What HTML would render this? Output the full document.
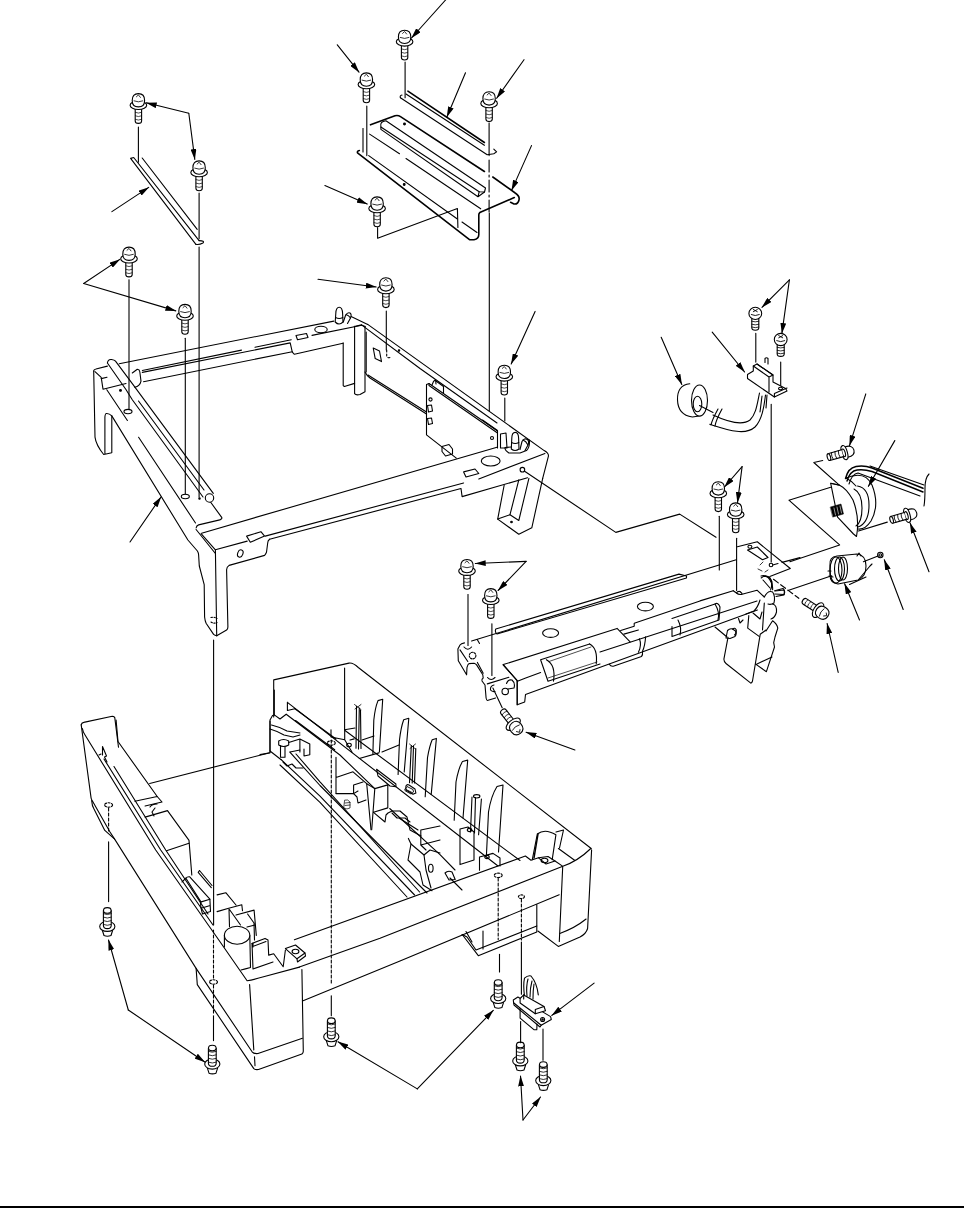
<!DOCTYPE html>
<html><head><meta charset="utf-8"><style>
html,body{margin:0;padding:0;background:#fff;width:964px;height:1208px;overflow:hidden}
svg{display:block}
</style></head><body>
<svg width="964" height="1208" viewBox="0 0 964 1208" fill="none" stroke="#000" stroke-width="1.1" stroke-linejoin="round" stroke-linecap="round">
<defs>
<marker id="ah" markerUnits="userSpaceOnUse" markerWidth="10.8" markerHeight="5.9" refX="10.6" refY="3" orient="auto" viewBox="0 0 11 6"><path d="M0,0 L11,3 L0,6 Z" fill="#000" stroke="none"/></marker>
<g id="sc">
<path d="M-3.2,14 L-3.2,27.5 Q-3.2,30 0,30 Q3.2,30 3.2,27.5 L3.2,14" fill="#fff"/>
<path d="M-3,19 Q0,20.5 3,19 M-3,22.5 Q0,24 3,22.5 M-3,26 Q0,27.5 3,26" stroke-width="0.7"/>
<ellipse cx="0" cy="11.8" rx="8.3" ry="4.3" fill="#fff"/>
<path d="M-6.2,7 Q-6.2,0.2 0,0.2 Q6.2,0.2 6.2,7 Q6.2,13.5 0,13.5 Q-6.2,13.5 -6.2,7 Z" fill="#fff"/>
<path d="M-4.4,7.5 Q0,9.5 4.4,7.5 M-2,3.4 L0,1.5 L2,4" stroke-width="0.8"/>
</g>
<g id="ss">
<path d="M-3.5,10.5 L-3.5,20.5 Q-3.5,23 0,23 Q3.5,23 3.5,20.5 L3.5,10.5" fill="#fff"/>
<path d="M-3.5,14 Q0,15.2 3.5,14 M-3.5,17 Q0,18.2 3.5,17 M-3.5,19.8 Q0,21 3.5,19.8" stroke-width="0.8"/>
<ellipse cx="0" cy="6.1" rx="6.4" ry="6.1" fill="#fff"/>
<path d="M-2,2.2 L2,4.4 M2,2.2 L-2,4.4" stroke-width="0.9"/>
<path d="M-4,7.3 Q0,9.3 4,7.3" stroke-width="0.9"/>
</g>
<g id="hs">
<path d="M18,-5.4 Q26,-5.8 26,0 Q26,5.8 18,5.4 Z" fill="#fff"/>
<ellipse cx="16.2" cy="0" rx="2.9" ry="7.3" fill="#fff"/>
<ellipse cx="15.4" cy="0" rx="1.5" ry="4"/>
<path d="M0,-3.5 L14,-3.5 L14,3.5 L0,3.5 Z" fill="#fff" stroke="none"/>
<path d="M0,-3.5 L14.2,-3.6 M0,3.5 L14.2,3.6"/>
<ellipse cx="0" cy="0" rx="1.6" ry="3.5" fill="#fff"/>
<path d="M3.6,-3.5 Q2.3,0 3.6,3.5 M7.2,-3.5 Q5.9,0 7.2,3.5 M10.8,-3.5 Q9.5,0 10.8,3.5" stroke-width="0.8"/>
</g>
<g id="scu">
<path d="M-4.9,-6 L-3.3,-1 Q0,0.4 3.7,-1 L5.3,-6" fill="#fff"/>
<ellipse cx="0" cy="-10.1" rx="7.6" ry="5" fill="#fff"/>
<path d="M-3.9,-26 L-3.9,-11 Q-3.9,-7.9 0,-7.9 Q3.9,-7.9 3.9,-11 L3.9,-26" fill="#fff"/>
<ellipse cx="0" cy="-26.1" rx="3.8" ry="2.8" fill="#fff"/>
<path d="M-3.9,-22.8 Q0,-21 3.9,-22.8 M-3.9,-19.3 Q0,-17.5 3.9,-19.3 M-3.9,-15.8 Q0,-14 3.9,-15.8 M-3.9,-12 Q0,-10.3 3.9,-12" stroke-width="0.8"/>
</g>
</defs>
<!-- bottom rule -->
<line x1="0" y1="1207" x2="964" y2="1207" stroke-width="2"/>

<!-- ===== top bracket group ===== -->
<g id="bracket">
<!-- strip -->
<path d="M407.9,91.2 L484.4,142.5" stroke-width="1.6"/>
<path d="M406,94 L484.4,145.3"/>
<path d="M400.4,97.7 L487.2,154.7 L493.8,153.7 L496.6,151.9 L493.8,149.1"/>
<path d="M400.4,97.7 Q399.5,95.5 402,95"/>
<!-- plate -->
<path d="M370.5,124.8 L395,115.8 Q398,115 400.5,116.6 L484.4,171.5 M492.8,177 L515.2,193 Q520,196 519,200 Q518,204.5 514,204 L510.6,202.3" stroke-width="1.6"/>
<path d="M514.3,197.6 L479.8,212.6 Q478.8,213.5 478.8,215 L478.8,234.5 Q478.8,238.8 474,239.8 L469.5,239.6 L357.5,152.8 Q357,151 359.3,150.5" stroke-width="1.6"/>
<path d="M363,128.5 L363,151.9"/>
<path d="M369.6,134.1 L399.5,153.7 M406,158.5 L480.7,208.8"/>
<path d="M368.7,155.6 L457.4,219 M462,222 L477,232.5"/>
<circle cx="404.2" cy="184.5" r="0.9" fill="#000"/>
<circle cx="404.5" cy="124" r="0.9" fill="#000"/>
<!-- rib -->
<path d="M380.9,127 Q379.5,121.5 385.9,120.7 L485.5,188 L484.5,192 L479.2,191.7 L380.9,127 Z" fill="#fff"/>
<path d="M380.9,127 L380.9,129.4 L478,196.7 L484.5,192 M479.2,191.7 L478,196.7"/>
<!-- screw leader lines -->
<path d="M405.1,62 L405.1,97.7"/>
<path d="M366.8,106.1 L366.8,155.6"/>
<path d="M489.1,123 L489.1,155.6"/>
<path d="M489.1,160 L489.1,213" stroke-dasharray="12,3,2,3"/>
<path d="M489.3,213 L489.3,411"/>
<path d="M377.6,227.5 L377.6,238.3 L457.4,208.5 L457.9,227.5"/>
</g>
<use href="#sc" x="404.6" y="30"/>
<use href="#sc" x="366.4" y="72.7"/>
<use href="#sc" x="489.1" y="91.6"/>
<use href="#sc" x="377.1" y="196.7"/>
<!-- arrows -->
<path d="M445.6,0 L411.5,38" marker-end="url(#ah)"/>
<path d="M337.3,44.8 L359,72.2" marker-end="url(#ah)"/>
<path d="M524,59.7 L496.7,98.3" marker-end="url(#ah)"/>
<path d="M465.5,72.7 L446.9,117" marker-end="url(#ah)"/>
<path d="M531.5,145.6 L511.6,190.4" marker-end="url(#ah)"/>
<path d="M324.9,185.5 L367.2,204.1" marker-end="url(#ah)"/>

<!-- ===== left strip group ===== -->
<use href="#sc" x="138.4" y="93.4"/>
<use href="#sc" x="199.1" y="160.7"/>
<path d="M188.8,113.2 L146.3,102.8" marker-end="url(#ah)"/>
<path d="M188.8,113.2 L194.8,159.4" marker-end="url(#ah)"/>
<path d="M138.4,127 L138.4,162.2"/>
<path d="M130.6,158.4 L195.9,244.3 M133.7,157.5 L199.1,240.6 M142.2,158 L197.2,229.4 M130.6,158.4 L133.7,157.5"/>
<path d="M195.9,244.3 Q199,245 203,243 Q205,240.6 199.1,240.6"/>
<path d="M111.9,211.6 L148.7,187.4" marker-end="url(#ah)"/>
<path d="M199.1,193 L199.1,238.7"/>

<!-- ===== upper frame ===== -->
<g id="frame">
<!-- back rail -->
<path d="M93.7,371 Q93.7,369.5 96,369 L107.4,366.1 M119.2,363.7 L333.8,321.1"/>
<path d="M95,371.7 L101.2,377.3 L103,389.2 L126,383.5"/>
<path d="M101.2,378.6 L107,377.2 M132.3,373 L137.3,369.3 Q139.5,369.5 139.8,371.7 L141,381.1 Q140,386 134.8,387.3"/>
<path d="M142.3,370.5 L241.5,350.1 M255,347.3 L291.3,339.8 M312,335.4 L361.8,325.3"/>
<path d="M142.3,372.4 L290.2,342.9 L292.3,352.2 L294.4,354.3 L343,343.3"/>
<path d="M143.5,381.7 L292.3,351.7"/>
<!-- pins back-right -->
<path d="M335.2,322 L335.8,313.5 Q336,307.3 339.2,307.3 Q342.4,307.3 342.6,313.5 L343,322 Q339,326 335.2,322 Z" fill="#fff"/>
<path d="M335.6,317.5 Q339.2,319.5 342.8,317.5"/>
<path d="M343.3,322 L345.5,315.5 Q347.5,312 350,313 Q352,314.5 350.5,318 L347.5,323.5"/>
<path d="M346,314.5 Q349,315.5 350.5,318"/>
<path d="M351.1,316.6 L367.7,324.4"/>
<!-- oval & slot back rail -->
<ellipse cx="321" cy="329.5" rx="6.2" ry="3.3"/>
<path d="M296,335.5 L306.5,333.5 L308,337.5 L297.5,339.8 Z"/>
<!-- back-right post -->
<path d="M343.2,342.9 L343.2,385.4 Q344,387 346,386 L354.6,383.4"/>
<path d="M354.6,326.3 L354.6,393.7 Q356,395.5 360,394.5 L365,391.7 L365,326.3"/>
<path d="M354.2,326.5 L361.5,324.9 L365.1,326.5"/>
<!-- right rail -->
<path d="M367.7,324.4 L544.2,450.6 Q548.5,453 548.5,455.9 L542.7,478.4"/>
<path d="M361.5,324.9 L420,368.5 L497,423"/>
<path d="M366.2,332 L366.2,372" />
<path d="M365,372 Q367,376 370,378 L426.5,414"/>
<path d="M368,375 L426.5,412"/>
<path d="M373.2,348 L379.5,351 L381.5,361.6 L375.2,358.6 Z"/>
<path d="M386.7,350 L386.7,356 Q387.5,358.5 390,357.5" stroke-dasharray="2,2"/>
<circle cx="399" cy="350.5" r="0.7" fill="#000"/>
<!-- board -->
<path d="M426.5,384.5 L426.5,434.9 L456.3,458.1"/>
<path d="M426.5,384.5 L429,383.5 L497.5,431 L497.5,448"/>
<path d="M429,383.5 L429,385.5 L497.5,433"/>
<circle cx="430.5" cy="399.5" r="1.6"/>
<path d="M427.5,405.5 L431.5,405 L432.5,411 L428.5,412 Z"/>
<path d="M427.5,418.5 L431.5,418 L432.5,423.5 L428.5,424.5 Z"/>
<circle cx="492" cy="438" r="1.5"/>
<path d="M442,446.5 L449,444.5 L452.5,449 L452.5,454 L445.5,456 L442,451.5 Z"/>
<path d="M432,385 L433.5,381.5 L435.5,379.7 L436,384 M436,381 L443.5,386.5 L443.5,393"/>
<path d="M500.5,434 L506,433 L507,448 L500.5,448 Z"/>
<path d="M482.5,420 L497.5,430.5"/>
<!-- pins front-right -->
<path d="M511.3,449 L511.8,438 Q512,432.4 515.2,432.4 Q518.4,432.4 518.6,438 L519,449 Q515,452 511.3,449 Z" fill="#fff"/>
<path d="M511.6,442.5 Q515.2,444.5 518.8,442.5"/>
<path d="M520,449.5 L522,441.5 Q524.5,437.5 527.5,439.5 Q529.5,441.5 528,445 L525,450.5"/>
<path d="M523,440 Q526,441 528,445"/>
<path d="M511,447 L505,447.5 Q504.5,450 508.9,453 L520,453 L526.5,450.6 Q530,447 529.4,440.3 L528,439.5"/>
<!-- front rail -->
<path d="M201.6,533.2 L497,447.2"/>

<path d="M215.4,549.8 L247.2,541.1 M265.2,536.1 L463.6,483 M478.8,479 L544.9,453.4"/>
<path d="M269.6,539.2 L461,488.5 L462.1,496.6 L527.5,477.7"/>
<path d="M269.6,539.2 Q267.7,540.5 267.7,543 L266.5,552.3 Q265.5,554.5 264.6,555.4 L229.1,565.4 Q226.6,567 226.6,569.7 L227.9,627 Q227.9,629 226.6,630.1 L216.7,635.7"/>
<ellipse cx="490.7" cy="461" rx="9.4" ry="5"/>
<path d="M463.6,471.9 L475,469 L478.8,473.5 L466,477 Z"/>
<path d="M246.6,536.1 L260.9,531.7 L264.6,536.1 L250.3,542.3 Z"/>
<ellipse cx="240.3" cy="553.5" rx="2.6" ry="3.8" transform="rotate(20 240.3 553.5)"/>
<circle cx="522.4" cy="469.7" r="2.3"/>
<!-- front right leg -->
<path d="M542.7,478.4 L531.8,527.8 L518.8,534.3 L497.7,519.1 L504.2,485"/>
<path d="M497.7,519.1 L510,514.7 L518.8,520.5 L528.9,478.4"/>
<path d="M510,514.7 L518.8,479.9"/>
<circle cx="511.5" cy="522" r="0.8" fill="#000"/>
<!-- left rail -->
<path d="M93.7,371 L95,437.1 Q96,445 103.7,454.5 L111.8,452.7 L111.8,415.9 Q109,413 106,413.5 Q104.9,414.7 104.9,417 L104.9,454"/>
<path d="M111.8,415.9 L187.9,540 L197.4,551 Q198.6,553 198.6,554.8 L199.3,566 L204.2,584.7 L204.6,617 Q205,621 206.1,623.2 L213.6,634.4 Q215,635.7 216.7,635.7"/>
<path d="M106.8,389.8 L127.4,420.5 M138.6,437.3 L195.5,523"/>
<path d="M196.1,528 Q196.5,525.5 198.6,524.9 L219.8,519.9 Q222.5,518.5 221.7,517.4 L209.6,500.8"/>

<path d="M201.1,533.6 L215.4,549.8 L216.7,635.7"/>
<path d="M196.1,529.5 L215.4,553.5"/>
<path d="M211,617.5 Q214,616.5 217,618.5 M211,622 Q214,624 217,622.5" stroke-dasharray="1.5,1.5"/>
<!-- rod -->
<path d="M107.4,363 Q108,359 111.5,359.5 Q114.5,360 115.5,361.2 L132.3,383.6 L213.3,493.4 M107.4,363 L126.1,389.8 L132.3,399.8 L203,497 M138.5,401 L204,490"/>
<circle cx="209.5" cy="498" r="4.2" fill="#fff"/>
<ellipse cx="128" cy="411.6" rx="4" ry="2.2"/>
<ellipse cx="185.3" cy="496.5" rx="4" ry="2.2"/>
<circle cx="120.5" cy="390.4" r="0.9" fill="#000"/>
<circle cx="199.5" cy="498.5" r="0.7" fill="#000"/>
</g>

<!-- frame-side screws -->
<use href="#sc" x="129" y="246.9"/>
<use href="#sc" x="185" y="304.2"/>
<use href="#sc" x="385.9" y="277.6"/>
<use href="#sc" x="504.3" y="365"/>
<path d="M83.7,283.5 L119.8,259.4" marker-end="url(#ah)"/>
<path d="M83.7,283.5 L175.8,310.9" marker-end="url(#ah)"/>
<path d="M129,279.8 L129,409"/>
<path d="M185.3,338.3 L185.3,494"/>
<path d="M199.1,247 L199.1,497"/>
<path d="M318,279.3 L376.2,287" marker-end="url(#ah)"/>
<path d="M535.1,311.4 L511.2,363.9" marker-end="url(#ah)"/>
<path d="M504.8,398.1 L504.8,421"/>
<path d="M386.3,311 L386.3,350"/>
<path d="M130,542 L161,497" marker-end="url(#ah)"/>
<path d="M213.6,640 L213.6,925"/>
<!-- frame hole leader to pickup -->
<path d="M524.6,471.2 L615.8,532.4 L679.7,514.1 L716,537.3"/>

<!-- ===== small screws & sensor ===== -->

<use href="#ss" x="755.3" y="307.3"/>
<use href="#ss" x="780.7" y="333.4"/>
<path d="M789.4,279.9 L762,307.3" marker-end="url(#ah)"/>
<path d="M789.4,279.9 L781.9,333.4" marker-end="url(#ah)"/>
<path d="M755.8,333.4 L755.8,362.1"/>
<path d="M780.7,362.1 L780.7,387"/>
<!-- sensor bracket -->
<path d="M747.5,374.5 L753.3,371 L753.3,366 L757,364 L773,375 L773,382 L785.6,388.5 L787,391 L774.4,397 L747.5,378.5 Z" fill="#fff"/>
<path d="M753.3,366 L769,377 L773,375 M769,377 L769,392 M757,364 L773,375"/>
<path d="M774.4,397 L774.4,393.5 L787,388"/>
<ellipse cx="780.5" cy="388.5" rx="2" ry="1.3"/>
<path d="M765,362.5 L765,358.5 Q766.5,357 768,358.5 L768,364"/>
<path d="M712.2,332.2 L744.6,372" marker-end="url(#ah)"/>
<!-- core -->
<path d="M689.8,383.7 Q677,385 677.5,400 Q678,415 692.3,417 L701,415.8"/>
<ellipse cx="699.5" cy="400.5" rx="8" ry="15.5" fill="#fff"/>
<ellipse cx="697.5" cy="404" rx="4.3" ry="7.8"/>
<path d="M661.2,337.2 L681.8,384.5" marker-end="url(#ah)"/>
<!-- cable -->
<path d="M699.5,405.5 L713,412.5 M713,415 C728,422 742,426 750,420 C756,414 757,405 759.5,393"/>
<path d="M709.7,424.3 C728,430 745,436 755,427 C762,420 764,407 765.5,395"/>
<path d="M762,396 L760,412 M767,395 L766,408"/>
<path d="M718,409 Q712,420 711,425 M722,409 Q716,420 715,426" />
<path d="M771.2,404.4 L771.2,562"/>
<!-- screws pair near pickup -->
<use href="#sc" x="718.3" y="481.6"/>
<use href="#sc" x="735.7" y="502.7"/>
<path d="M742.1,466.6 L724.5,487" marker-end="url(#ah)"/>
<path d="M742.1,466.6 L737.5,502.5" marker-end="url(#ah)"/>
<path d="M719.3,516.3 L719.3,569.9"/>
<path d="M736.6,538.3 L736.6,590.4"/>

<!-- ===== motor ===== -->

<use href="#hs" transform="translate(828.9,457.1) rotate(-16)"/>
<use href="#hs" transform="translate(891.6,519.8) rotate(-16)"/>
<path d="M865.8,393.9 L849.5,445.6" marker-end="url(#ah)"/>
<path d="M822.7,460.5 L813.8,462.5 L839.6,485.3"/>
<path d="M929,571.7 L910.1,523" marker-end="url(#ah)"/>
<path d="M887.3,522.1 L858.5,531"/>
<!-- motor body -->
<path d="M830.7,483.3 L837.6,517.1 L853.5,534 L856.5,536.5 Q860,518 853,500 Q846,488 839.6,485.3 Z" fill="#fff"/>
<path d="M830.7,483.3 L839.6,485.3"/>
<path d="M846,478 Q865,470 872,485 Q880,505 871,521 Q865,530 858,529"/>
<path d="M857.5,486 Q869,488 869,505 Q869,523 858,527"/>
<path d="M854,489 Q862,493 862,508 Q862,522 856,526"/>
<path d="M846,478 Q852,481 856,486"/>
<path d="M830.5,507 L841,504 L843.5,514 L833,517 Z" fill="#000" stroke-width="0.5"/>
<path d="M834,508 L835.5,515 M837,507 L838.5,514 M840,506 L841.5,513" stroke="#fff" stroke-width="0.6"/>
<!-- wires -->
<path d="M845.6,478.4 Q848,468 856,466.5 Q864,465 872,468 L923,488.3" stroke-width="1.6"/>
<path d="M847,481 Q850,471 857,470 Q864,469 872,471.5 L923,492" stroke-width="1.4"/>
<path d="M849,484 Q852,474 858,473 L920,496" />
<path d="M870,466 L924,485"/>
<path d="M929,474 Q925,478 925,488 Q925,500 924,506" />
<path d="M894.8,440.6 L868.4,486.3" marker-end="url(#ah)"/>
<path d="M830.7,487.3 L788.9,500.2 L839.6,544.9 L789.9,561.8"/>
<!-- gear/clutch -->
<path d="M830,565 Q829,557 837,556 L857,554 Q866,555 866,566 Q866,577 858,580 L838,584 Q830,583 830,575 Z" fill="#fff"/>
<ellipse cx="836" cy="570" rx="6" ry="13"/>
<ellipse cx="839.5" cy="569" rx="5" ry="12"/>
<ellipse cx="843" cy="568.5" rx="4.5" ry="11.5"/>
<path d="M857,556 L859,553 L861,556 M859,579 L870,566 L872,564"/>
<path d="M849.5,584.5 L866,577"/>
<path d="M828,571 L831,571 M829,576 L833,577"/>
<circle cx="880.3" cy="555" r="2.7"/>
<circle cx="880.3" cy="555" r="1.3"/>
<path d="M863.4,561.8 L878,556"/>
<path d="M788,590.6 L831.7,575.7"/>
<path d="M903.2,609.5 L884.3,559.8" marker-end="url(#ah)"/>
<path d="M859.5,620 L844.6,583.7" marker-end="url(#ah)"/>
<!-- screw S15 tilted -->
<use href="#sc" transform="translate(828,616.5) rotate(123)"/>
<path d="M838.2,672.4 L827.1,623.5" marker-end="url(#ah)"/>
<path d="M773.5,579.3 L798.8,598.3" stroke-dasharray="6,3"/>

<!-- ===== lower tray ===== -->
<g id="tray">
<!-- left end -->
<path d="M81.2,724.9 Q81.5,722.8 83.7,722.4 L112.3,716.2 Q114.8,716.5 114.8,717.9 L118.5,747.3"/>
<path d="M81.2,724.9 L91.1,798.1 Q92,801 93,802 L110,832 L114.8,839.4 L196.1,968.4 L197.3,984.6 L253.8,1068.6 Q255.5,1070 258.5,1069.5 L301.9,1054.1 Q303.3,1053 303.3,1051.3 L301.9,969.6"/>
<path d="M82.4,728.6 Q83,732 84.9,734.8 L155.7,850 L218.8,940 L247.1,980.8 Q253,979.8 264.5,976.5 L299.4,967.1"/>
<path d="M196.1,968.4 L252.1,1051.8 Q254,1054 258,1053.5 L302.4,1038.2"/>
<path d="M249.6,984.6 L253.8,1049.9 M254.5,1056.9 L255,1065.8"/>
<path d="M91.7,800.6 Q92,806 94,809 L104.8,830.4 L114.7,839.1"/>
<!-- left wall inner -->
<path d="M104,759 L160.7,850 L213,925"/>
<path d="M114,766.5 L165.7,850 L208,914"/>
<path d="M116.1,720 L118,741.5 L157.2,796.5"/>
<path d="M102.5,755 L102.5,746.5 L106.5,756 L104.5,757 L107,762 M99,755 L101,754"/>
<path d="M134.8,801.2 L157.2,796.5 L162,802 L145.1,806"/>
<path d="M145.1,817.1 L167.5,810.6 L189,840.4 L191.8,875"/>
<path d="M166.5,850.7 L189,843.2"/>
<path d="M150,807 Q152,804 157,804"/>
<path d="M152,812 L154,816 M152,812 L155,808"/>
<path d="M149.7,783.5 L270,752.7 L270,721"/>
<path d="M260,754.6 L270,752.7"/>
<!-- back wall -->
<path d="M273.7,717 L273.7,679.9 L349,663.1 Q353,662.5 358.3,667.5 L591.2,848.5"/>
<path d="M344.6,668.1 L344.6,729.7"/>
<path d="M345,730.5 L520,860.5"/>
<path d="M344.6,729.7 L355,728 M362,740 L374,736 M382,752 L399,745"/>
<!-- left-back interior block -->
<path d="M274.3,714.9 L274.3,690"/>
<path d="M270,719.9 L270,751 M270,719.9 L272.5,715.5 L274.3,714.9 L280,719 L286.2,714.3"/>
<path d="M270,729 Q277,731 284,735 L293,737 L300,735"/>
<path d="M271.5,725 Q280,727 287,731 L300,733"/>
<path d="M278.7,741 Q283.5,738 288.7,741 L288.7,745 Q283.5,748 278.7,745 Z"/>
<path d="M280.5,745.5 L280.5,757.2 L285,757.2 L285,746.5"/>
<path d="M288.7,742.5 L299.9,739 L299.9,752 M299.9,739 L309.8,744 L309.8,754.7 L304,756 L304,749"/>
<path d="M290,752 L299.9,750"/>
<path d="M270,751 L281.2,759.7"/>
<!-- main bar -->
<path d="M287.4,702.4 L287.4,710.5 L294.9,708.7 M287.4,702.4 L498,866"/>
<path d="M286.2,714.3 L339.9,755 L374.8,788.6"/>
<path d="M294.9,708.7 L336,739"/>
<path d="M295.5,720.5 L334.7,749.8"/>
<path d="M389.7,808.5 L440,854.6 L455,870"/>
<path d="M331,729.8 L331,737 L344.7,739.8 L352.1,752.2 M344.7,739.8 L344.7,729.8"/>
<ellipse cx="349" cy="745" rx="2.3" ry="1.8"/>
<!-- front inner rails -->
<path d="M296,754 L320,781.8 L419.6,892"/>
<path d="M289.9,752.2 L320,785.5 L427,893"/>
<path d="M281.2,759.7 L320,796.1 L414.6,895"/>
<path d="M280,765 L320,802.3 L407,897"/>
<path d="M283,762 L287,766 L292,764 L296,768 L303,768"/>
<!-- interior boxes -->
<path d="M336,757.2 L336,793.3 M336,777.4 L353,771.8 L366.7,783.7 L371,829.7"/>
<path d="M336,793.6 L353.6,793.6 L358,791 M353.6,793.6 L353.6,785 L363,782"/>
<path d="M353.6,793.6 L357,797 L358,803 L366,800"/>
<path d="M366.7,783.7 L374.8,788.6 L387.8,784.9 L387.8,807.9 L373.5,812.3 M374.8,788.6 L371.7,829.7"/>
<path d="M376.6,769.3 L395.9,784 L395.9,786.8 L390,786 L378,776 Z"/>
<path d="M345,800 Q348,799 350,802 L350,808 Q347,810 344,808 Z M345,803 L350,802.5 M345,805.5 L350,805" stroke-width="0.7"/>
<path d="M373.5,812.3 L385,822 L386,815 L388,813 L392,811 L400,811 L407,817 L410,830 L421,836"/>
<path d="M392,813 L397,818 L405,818 L410,822 M399,818 L418,830"/>
<path d="M408.4,838.4 L411,844 L408,860 L420,872 L423,885 L432,890.7"/>
<path d="M411,844 L424,855 L430,850 L440,853"/>
<path d="M424,855 L426,870 L431,888"/>
<ellipse cx="430.8" cy="868.3" rx="2.3" ry="4"/>
<path d="M420.8,830 L440,826 M420.8,830 L420.8,845 L440,840 M420.8,845 L426,850"/>
<path d="M405.9,786 Q407,784 409,785 L415,789 L415.9,793 L413,794.2 L406,790 Z"/>
<path d="M445,873 Q448,870 452,872 L455.2,879.5 L449,880 Z"/>
<path d="M450,878 L462,890"/>
<path d="M460,829 L460,864.6 L474,860 M460,829 L468,827 L474,832 L474,860"/>
<ellipse cx="469.5" cy="830" rx="2.2" ry="1.6"/>
<path d="M479.5,857 L479.5,870.2 M479.5,857 L493,853.4 L500,858 L500,866"/>
<ellipse cx="487" cy="857" rx="2.2" ry="1.6"/>
<!-- fins -->
<path d="M356,748.2 L356.5,706.2 M358.5,749 L359.3,708.1 M361,748.5 L360.5,710"/>
<path d="M354.5,704.5 L361,709.5 M361,704.5 L355,709" stroke-width="0.8"/>
<path d="M350,740 L354.2,738.9 M359.3,758.5 L378.9,752.9"/>
<path d="M372.9,753.8 L373.8,720.2 Q375,708 378,700.6 L382.7,699.2 L379.4,752"/>
<path d="M398.1,774.4 L399.5,739.8 Q401,727 403.7,719.7 L408.8,718.3 L404.2,772"/>
<path d="M409.5,782.8 L411.3,745.5 M412.2,783 L413.5,746 M414.5,783 L415.8,748.5"/>
<path d="M409.5,744 L415.5,749 M415.5,744 L410,748.5" stroke-width="0.8"/>
<path d="M405,789 L407,786.5 L413,789.5 L413.5,792 L411,794 L405.5,791 Z M406,789.5 L412,792.5" stroke-width="0.9"/>
<path d="M425.2,796.8 L427.5,757.6 Q429.5,746 432.2,739.8 L436.4,738.4 L431.2,794.4"/>
<path d="M454.2,820.2 L456,782 Q458.5,768 462.5,761.5 L467.7,760.1 L463,818"/>
<path d="M470.5,832 L472,797 M474.5,833 L475.5,797.5 M478.6,834.7 L481.4,799"/>
<ellipse cx="476.7" cy="796.3" rx="3.2" ry="1.7"/>
<path d="M486.4,856 L488.5,812 Q491,796 497,786.5 L503,785 L498.5,852"/>
<!-- right wall / post -->
<path d="M532.3,859.7 L537.3,834 Q545,828 555.9,834.8 L552.2,859.7"/>
<path d="M534,858 L538,834" stroke-width="1.5"/>
<path d="M556,832 L563.5,830 L559.5,848"/>
<ellipse cx="544.5" cy="860.5" rx="3.4" ry="2.2"/>
<path d="M538.5,857.8 L548,856.5 L555,861 L546,864 Z"/>
<path d="M558.4,848.5 L574.6,860.3"/>
<!-- front beam -->
<path d="M294.4,939.7 L525.4,856 L531,860.3 L538.5,857.8 M555,861 L562.2,865.9"/>
<path d="M299.4,967.1 L380,938.2 L562.2,866.6 Q578,861 590.8,848.5"/>
<path d="M303.1,1000.7 L400,960.9 L559.2,894.7"/>
<path d="M562.7,866.8 L559.3,941.4"/>
<path d="M591.6,849.9 L587.6,928.5 Q586,934 580,937 L558.3,946.4 L537.9,931"/>
<path d="M559.8,933.4 Q575,928 586.1,919"/>
<path d="M536.8,904.6 L536.8,932 L478.3,955.7 L462.2,934.5"/>
<path d="M462.2,934.5 L467,937 L476,950 L536.8,926"/>
<path d="M466,931.5 L472,942"/>
<path d="M483,931 L483,949"/>
<!-- front corner details -->
<path d="M285.4,948.6 L295.5,945 L305,953 L297,958.8 Z" fill="#fff"/>
<path d="M297,958.8 L297.5,962 L305.5,956 L305,953"/>
<ellipse cx="295.5" cy="951.5" rx="3.4" ry="2.2"/>
<path d="M224.4,935.2 L224.4,947 M249.8,935.2 L250.5,967.5 Q245,969 241,970"/>
<ellipse cx="237.1" cy="935.2" rx="12.7" ry="9" fill="#fff"/>
<path d="M252,943.5 L265,938.4 L268,940 L268.7,955.1 L273.7,953.7 L283.2,966.7 L285.4,950"/>
<path d="M252,943.5 L253,969 L273,962 M254,946 L266,941.5 M253,943 L253,947"/>
<path d="M217.1,894.9 L225.8,892.7 L236,905 M217.1,911.6 L228.7,908.2 L241.8,904.7 L242.5,910.8"/>
<path d="M229,909 L229.5,926.8 M229.5,909.5 L240.5,925 M236,915 L254.1,910.1 L256.3,935.5 M247.6,914 L254,923 L254.5,940"/>
<path d="M247,927 L255,925"/>
<path d="M185.9,878.2 Q187,876.5 189.5,876.7 L209.9,899.2 M185.9,878.2 L201.1,902.1"/>
<path d="M198.2,872.3 L211.3,887.6 M199.5,870.5 L212,885.5 M198.2,872.3 L199.5,870.5"/>
<path d="M200.4,902.1 L209.9,899.2 L210.2,905.5 L201,908.2 Z M201,908.2 L202.5,914 L210.5,911.5 L210.2,905.5"/>
<path d="M182,882 L185.9,878.2"/>
<!-- dashed leader lines & screws -->
<path d="M108.6,808 L108.6,832" stroke-dasharray="3,2"/>
<ellipse cx="108.6" cy="805" rx="4" ry="2.2" stroke-dasharray="2,1.5"/>
<path d="M108.6,841.9 L108.6,901.6"/>
<path d="M213.5,930 L213.5,980" stroke-dasharray="3,2"/>
<ellipse cx="213.5" cy="982" rx="4" ry="2.2" stroke-dasharray="2,1.5"/>
<path d="M213.5,985 L213.5,1015" stroke-dasharray="3,2"/>
<path d="M213.5,1015.7 L213.5,1040.6"/>
<path d="M331.3,740 L331.3,984.6" stroke-dasharray="3,2"/>
<ellipse cx="331.3" cy="743" rx="4" ry="2.2" stroke-dasharray="2,1.5"/>
<path d="M331.3,995.8 L331.3,1015.7"/>
<path d="M498.2,878 L498.2,939.5" stroke-dasharray="3,2"/>
<ellipse cx="498.2" cy="875.3" rx="4" ry="2.2" stroke-dasharray="2,1.5"/>
<path d="M499.5,954.4 L499.5,971.9"/>
<path d="M521.4,899 L521.4,940" stroke-dasharray="3,2"/>
<ellipse cx="521.4" cy="896.7" rx="3" ry="1.8" stroke-dasharray="2,1.5"/>
<path d="M521.4,942 L521.4,994.3"/>
</g>
<use href="#scu" x="107.3" y="936.5"/>
<use href="#scu" x="212.3" y="1074.2"/>
<use href="#scu" x="331.3" y="1046.8"/>
<use href="#scu" x="498.2" y="1008.6"/>
<use href="#scu" x="520.3" y="1071"/>
<use href="#scu" x="543.3" y="1090.7"/>
<path d="M128.3,1010 L108.5,940" marker-end="url(#ah)"/>
<path d="M128.3,1010 L204.8,1062" marker-end="url(#ah)"/>
<path d="M417.3,1088.9 L338,1041.8" marker-end="url(#ah)"/>
<path d="M417.3,1088.9 L493.3,1010.4" marker-end="url(#ah)"/>
<path d="M523,1120 L520.5,1076" marker-end="url(#ah)"/>
<path d="M523,1120 L540.5,1097" marker-end="url(#ah)"/>
<path d="M594.1,983.1 L551.8,1015.4" marker-end="url(#ah)"/>
<path d="M520.6,1021.6 L520.6,1042.8"/>
<path d="M543,1029.1 L543,1060.2"/>
<!-- lower sensor -->
<path d="M520.1,1006 L520.1,1018.1 L533.9,1029.7 L536.8,1029.7 L537,1024"/>
<path d="M513.3,1000 L517.9,997 L550.6,1016.6 L551.3,1019.5 L541.2,1025.3 L513.6,1002.8 Z" fill="#fff"/>
<path d="M513.6,1002.8 L514,1005 L540,1027 L541.2,1025.3"/>
<path d="M524.5,996 Q523,985 524.5,978.2 Q528,975 531,976 Q537,983 538.3,994.9 M527,996 Q526,986 528,979 M530,997 Q530,988 532,981 M533,999 Q533,990 534,984"/>
<path d="M520.1,998.5 L523.7,994.9 L544,1006.5 L545.5,1010.8 L535.3,1013.7 L520.1,1003 Z" fill="#fff"/>
<path d="M535.3,1013.7 L535.3,1009.5 L544,1006.5 M523.7,994.9 L523.7,999"/>
<circle cx="542.6" cy="1019.5" r="2"/>
<circle cx="542.6" cy="1019.5" r="0.7"/>

<!-- ===== pickup assembly ===== -->
<g id="pickup">
<path d="M495.8,629 L679,574.1 L686.5,576 L686.5,578 L497,634 Q494.5,632 495.8,629 Z"/>
<path d="M471.6,641 L736.2,559.8 M477.5,640 L479.5,643.5"/>
<path d="M772.7,565 L778,563.5 M782,562.4 L800,557.6" />
<!-- plate at right -->
<path d="M737.4,546.8 L757.3,541.8 L790.3,568.5 L769.8,576.6"/>
<path d="M747.5,550 L757.3,547 L768,557.5 L762.5,559.8 Z"/>
<ellipse cx="749.9" cy="546.8" rx="2" ry="1.5"/>
<path d="M761,576 Q768,574 771.5,583 Q772,588 770.5,590 M763,580 L770,588"/>
<path d="M774.8,591 L784.1,590 Q785.5,592 784.1,594.5 L774.8,594"/>
<circle cx="771" cy="565" r="1.8"/>
<path d="M760,565 L763,562 M758,569 L762,571 M765,572 L768,570" stroke-width="0.8"/>
<!-- housing -->
<path d="M503.3,664.6 L617.1,628.4 L630.1,641.9 M620.7,630.5 L634.2,626.3 L634.2,623.2 L700,600.9 L733.2,590.7"/>
<path d="M503.3,664.6 L517.2,680.6 L517.2,704.7 L524.7,702 L525.5,694.5 L757.4,610"/>
<path d="M517.4,681.2 L525.7,677.9 L540.6,672.5 M600,652 L757,601"/>
<path d="M540.6,659.7 L589.6,643.9 M540.6,659.7 L548,681.2 L600,664"/>
<path d="M546.4,659.7 Q556,665 553.5,681.2 M589.6,643.9 Q598,648 596.2,664"/>
<path d="M548,678 L597,662 M549,661.5 L591,647" stroke-width="0.7"/>
<path d="M672,626.5 L672,636.5 L719,620 L720,607 Q718,602 715,604 L672,618.5"/>
<path d="M678,620 Q682,628 680,635 M715,604 Q720,612 718,620"/>
<path d="M623.9,634.1 L638.4,630 M639.4,638.8 Q642,645 638.4,652.2 M645.6,636.7 Q645,646 642.5,651.2 M609.3,664.2 Q611,667 614,666 L641.5,656.5 Q643,655 642.5,651.2"/>
<ellipse cx="550.6" cy="633.1" rx="8" ry="4.3"/>
<ellipse cx="645.4" cy="606.6" rx="8" ry="4.3"/>
<!-- left end details -->
<path d="M464.5,642.9 Q461,643.5 460,645 L457.9,649.1 L458.3,660.7 L466.6,674.8 L467,667.3 Q468,664 469.1,663.6 L474.1,663.2 Q475.5,663.5 476.6,664.9 L482.8,674.8 L483.2,678.1 Q481.5,679 482,681 L485,685 L486.1,698 Q486.5,700.5 487.3,700.5 L495.6,698"/>
<path d="M460,649.9 L467.8,661.5"/>
<path d="M464,647 Q467.8,651.5 471.6,647"/>
<circle cx="472.6" cy="655.6" r="3.3" stroke-dasharray="1.6,1.2"/>
<path d="M477.4,662.4 L483.2,673.2"/>
<path d="M487.5,677.5 Q491.1,681.5 495,677.5"/>
<path d="M487.3,683.9 L508.9,677.3"/>
<path d="M494,685 Q490,686 490.5,690 Q492,692 495,691.5"/>
<circle cx="505.2" cy="691.4" r="3.2"/>
<path d="M506.5,683.5 Q508,679 512,680 Q515.5,683 514,688 L508,689"/>
<path d="M503.1,664.9 L517.2,680.6 L517.2,704.7"/>
<!-- right end -->
<path d="M733.2,590.7 L736.5,593 Q739,595.5 743,594 L757,590.2 L764.3,597"/>
<path d="M736.5,593 Q737.5,591 740,591.5 L742,593.5"/>
<path d="M761.2,578 Q766,574 770,578 Q773,583 772.6,589.7"/>
<path d="M764,576.5 Q770,575.5 772,582"/>
<path d="M764.3,597 Q768,590 772.6,592 Q775.5,596 774,603 Q771,605 768,604"/>
<path d="M774.7,590.7 L783,588.5 Q785,590 784,594.9 L776,596.5"/>
<path d="M772.6,604 Q777,605 776.5,612 Q775,618 771,619"/>
<path d="M760,600 Q758,607 754,611 L746,614"/>
<path d="M764.3,603 L762.5,630"/>
<path d="M728,637.4 L723.9,659.2 Q724,662 726,663.5 L750.8,683.1 Q752,683 752.5,681 L760.2,634.3 L766,630"/>
<path d="M748.8,615.6 L747.7,628.1 L759.1,636.4"/>
<path d="M753,613 L760,619 L762,612"/>
<path d="M766,631 L772.6,620.8 Q777,624 777.8,628.1 L775,637 L773.7,642.6 L774.5,647 L770.5,659.2 L766.4,671.7 L756,664.4"/>
<path d="M756,664.4 L772,657"/>
<path d="M726,638 L727.5,630.5 Q730,628 732.5,629 L735.5,631 Q737,634 735,636.5 L730,638.5 Z"/>
<path d="M732.5,629 Q735,627 736.3,630 Q736.5,634 734.5,635"/>
<path d="M715,627 L727,637"/>
<path d="M738.5,618.5 L740,623 L743,620"/>
</g>
<use href="#sc" x="467" y="559.3"/>
<use href="#sc" x="490.8" y="588.4"/>
<path d="M526.1,561.4 L475.3,563.5" marker-end="url(#ah)"/>
<path d="M526.1,561.4 L498.1,590.5" marker-end="url(#ah)"/>
<path d="M468,594.6 L468,645.4"/>
<path d="M491.9,623.7 L491.9,675.5"/>
<use href="#sc" transform="translate(520.5,733.5) rotate(142)"/>
<path d="M574.9,750 L526.1,732.2" marker-end="url(#ah)"/>
<path d="M502.2,707.7 L492.9,688"/>
</svg>
</body></html>
